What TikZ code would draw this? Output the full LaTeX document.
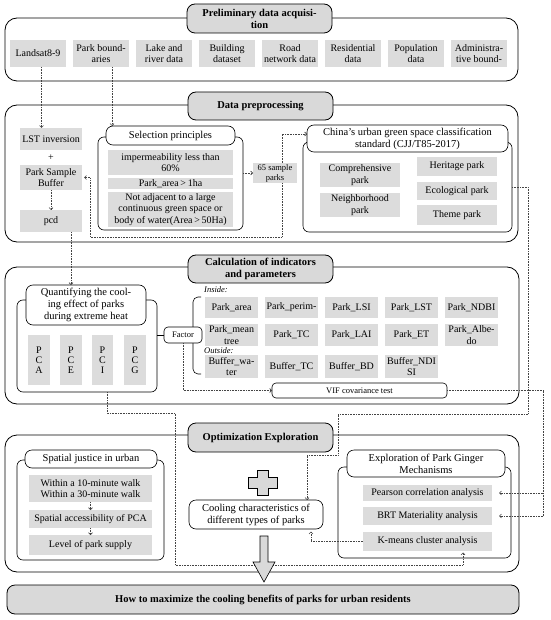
\documentclass[tikz,border=0pt]{standalone}
\usepackage{fontspec}
\setmainfont{Liberation Serif}
\usetikzlibrary{arrows.meta}
\definecolor{boxgray}{HTML}{D9D9D9}
\definecolor{itemgray}{HTML}{DCDCDC}
\definecolor{dotc}{HTML}{444444}
\newcommand{\mybox}[7]{\node[#1, minimum width={(#5)-(#3)}, minimum height={(#6)-(#4)}] (#2) at ({((#3)+(#5))/2},{((#4)+(#6))/2}) {#7};}
\tikzset{
  sect/.style={draw, rounded corners=12pt, line width=0.8pt, inner sep=0pt, outer sep=0pt},
  ttl/.style={draw, fill=boxgray, rounded corners=8pt, line width=0.8pt, align=center, font=\bfseries\fontsize{10.5}{12}\selectfont, inner sep=0pt, outer sep=0pt},
  subt/.style={draw, fill=white, rounded corners=7pt, line width=0.6pt, align=center, font=\fontsize{10.5}{12}\selectfont, inner sep=0pt, outer sep=0pt},
  cont/.style={draw, fill=white, rounded corners=6pt, line width=0.6pt, inner sep=0pt, outer sep=0pt},
  itm/.style={fill=itemgray, align=center, font=\fontsize{10}{11.5}\selectfont, inner sep=0pt, outer sep=0pt},
  sml/.style={font=\fontsize{8.5}{10}\selectfont},
  smlbox/.style={draw, fill=white, rounded corners=4pt, line width=0.6pt, align=center, font=\fontsize{8.5}{10}\selectfont, inner sep=0pt, outer sep=0pt},
  pcbar/.style={itm, font=\fontsize{10}{10}\selectfont},
  dl/.style={draw=dotc, line width=0.6pt, dash pattern=on 0.6pt off 1pt},
  da/.style={dl, -{Straight Barb[length=2pt,width=4pt]}},
}
\begin{document}
\begin{tikzpicture}[x=1pt,y=-1pt]
\useasboundingbox (0,0) rectangle (550,620);

% ---------- Section 1
\mybox{sect}{s1}{5}{18}{518}{81}{}
\mybox{ttl}{t1}{187}{4}{332}{33}{Preliminary data acquisi-\\tion}
\mybox{itm}{l1}{10}{40}{66}{67}{Landsat8-9}
\mybox{itm}{l2}{73}{40}{129}{67}{Park bound-\\aries}
\mybox{itm}{l3}{136}{40}{192}{67}{Lake and\\river data}
\mybox{itm}{l4}{199}{40}{255}{67}{Building\\dataset}
\mybox{itm}{l5}{262}{40}{318}{67}{Road\\network data}
\mybox{itm}{l6}{325}{40}{381}{67}{Residential\\data}
\mybox{itm}{l7}{388}{40}{444}{67}{Population\\data}
\mybox{itm}{l8}{451}{40}{507}{67}{Administra-\\tive bound-}

% ---------- Section 2
\mybox{sect}{s2}{5}{105}{518}{242}{}
\mybox{ttl}{t2}{188}{92}{333}{120}{Data preprocessing}
\mybox{itm}{lst}{20}{128}{82}{150}{LST inversion}
\node[font=\fontsize{10}{11}\selectfont] (plus1) at (51,158) {+};
\mybox{itm}{psb}{20}{165}{82}{190}{Park Sample\\Buffer}
\mybox{itm}{pcd}{20}{210}{82}{232}{pcd}
\mybox{cont}{selc}{98}{137}{243}{230}{}
\mybox{subt}{selt}{106}{126}{235}{145}{Selection principles}
\mybox{itm}{se1}{108}{150}{233}{175}{impermeability less than\\60\%}
\mybox{itm}{se2}{108}{178}{233}{189}{Park\_area\,>\,1ha}
\mybox{itm}{se3}{108}{192}{233}{227}{Not adjacent to a large\\continuous green space or\\body of water(Area\,>\,50Ha)}
\mybox{itm,sml}{sp}{253}{163}{297}{183}{65 sample\\parks}
\mybox{cont}{cc}{303}{142}{512}{232}{}
\mybox{subt}{ct}{307}{125}{508}{152}{China’s urban green space classification\\standard (CJJ/T85-2017)}
\mybox{itm}{c1}{320}{163}{400}{187}{Comprehensive\\park}
\mybox{itm}{c2}{320}{193}{400}{217}{Neighborhood\\park}
\mybox{itm}{c3}{417}{157}{497}{176}{Heritage park}
\mybox{itm}{c4}{417}{182}{497}{200}{Ecological park}
\mybox{itm}{c5}{417}{205}{497}{225}{Theme park}

% ---------- Section 3
\mybox{sect}{s3}{5}{267}{519}{404}{}
\mybox{ttl}{t3}{188}{255}{333}{283}{Calculation of indicators\\and parameters}
\mybox{cont}{qc}{17}{300}{157}{392}{}
\mybox{subt}{qt}{26}{285}{146}{325}{Quantifying the cool-\\ing effect of parks\\during extreme heat}
\mybox{pcbar}{pa}{28}{335}{50}{385}{P\\C\\A}
\mybox{pcbar}{pe}{60}{335}{82}{385}{P\\C\\E}
\mybox{pcbar}{pi}{92}{335}{113}{385}{P\\C\\I}
\mybox{pcbar}{pg}{124}{335}{146}{385}{P\\C\\G}
\draw[line width=0.6pt, rounded corners=5pt] (201,297) -- (193,297) -- (193,374) -- (201,374);
\mybox{smlbox}{fac}{164}{327}{202}{343}{Factor}
\draw[line width=0.6pt] (fac.west -| qc.east) -- (fac.west);
\node[sml, font=\itshape\fontsize{8.5}{10}\selectfont, anchor=west, inner sep=0pt] (ins) at (204,290) {Inside:};
\mybox{itm}{r11}{205}{297}{258}{318}{Park\_area}
\mybox{itm}{r12}{265}{297}{318}{318}{Park\_perim-}
\mybox{itm}{r13}{325}{297}{378}{318}{Park\_LSI}
\mybox{itm}{r14}{385}{297}{438}{318}{Park\_LST}
\mybox{itm}{r15}{445}{297}{498}{318}{Park\_NDBI}
\mybox{itm}{r21}{205}{324}{258}{346}{Park\_mean\\tree}
\mybox{itm}{r22}{265}{324}{318}{346}{Park\_TC}
\mybox{itm}{r23}{325}{324}{378}{346}{Park\_LAI}
\mybox{itm}{r24}{385}{324}{438}{346}{Park\_ET}
\mybox{itm}{r25}{445}{324}{498}{346}{Park\_Albe-\\do}
\node[sml, font=\itshape\fontsize{8.5}{10}\selectfont, anchor=west, inner sep=0pt] (outs) at (204,351) {Outside:};
\mybox{itm}{r31}{205}{355}{258}{378}{Buffer\_wa-\\ter}
\mybox{itm}{r32}{265}{355}{318}{378}{Buffer\_TC}
\mybox{itm}{r33}{325}{355}{378}{378}{Buffer\_BD}
\mybox{itm}{r34}{385}{355}{438}{378}{Buffer\_NDI\\SI}
\mybox{smlbox}{vif}{272}{383}{447}{398}{VIF covariance test}

% ---------- Section 4
\mybox{sect}{s4}{5}{435}{519}{572}{}
\mybox{ttl}{t4}{188}{423}{333}{452}{Optimization Exploration}
\mybox{cont}{spc}{17}{460}{164}{560}{}
\mybox{subt}{spt}{25}{450}{157}{468}{Spatial justice in urban}
\mybox{itm}{sp1}{29}{475}{152}{502}{Within a 10-minute walk\\Within a 30-minute walk}
\mybox{itm}{sp2}{29}{510}{152}{528}{Spatial accessibility of PCA}
\mybox{itm}{sp3}{29}{535}{152}{555}{Level of park supply}
\draw[fill=boxgray, line width=0.6pt] (257,470) -- (268,470) -- (268,477) -- (277,477) -- (277,488) -- (268,488) -- (268,495) -- (257,495) -- (257,488) -- (248,488) -- (248,477) -- (257,477) -- cycle;
\mybox{subt}{cool}{189}{500}{323}{529}{Cooling characteristics of\\different types of parks}
\mybox{cont}{ec}{338}{467}{511}{558}{}
\mybox{subt}{et}{347}{450}{505}{477}{Exploration of Park Ginger\\Mechanisms}
\mybox{itm}{e1}{363}{485}{492}{501}{Pearson correlation analysis}
\mybox{itm}{e2}{363}{507}{492}{525}{BRT Materiality analysis}
\mybox{itm}{e3}{363}{532}{492}{551}{K-means cluster analysis}

% ---------- Final
\mybox{ttl}{fin}{7}{585}{519}{614}{How to maximize the cooling benefits of parks for urban residents}

% ---------- Connectors
\coordinate (a1) at ([xshift=3.5pt]l1.south);
\draw[da] (a1) -- (a1 |- lst.north);
\coordinate (a2) at ([xshift=11pt]l2.south);
\draw[da] (a2) -- (a2 |- selt.north);
\draw[da] (psb.south) -- (pcd.north);
\draw[da] (sp.west -| selc.east) -- (sp.west);
\coordinate (a3) at ([xshift=7pt]sp.north);
\coordinate (a4) at ([yshift=4.5pt]ct.west);
\draw[da] (a3) |- (a4);
\coordinate (a5) at ([xshift=7pt]sp.south);
\coordinate (b1) at (90,237);
\draw[da] (a5) |- (b1) |- ([xshift=2pt]psb.east);
\coordinate (a6) at ([xshift=20pt]pcd.south);
\draw[da] (a6) -- (a6 |- qt.north);
\draw[da] (fac.south) |- (vif.west);
\coordinate (a7) at ([xshift=20pt]qc.south);
\coordinate (b2) at (175,413);
\coordinate (b3) at (175,565);
\coordinate (a8) at ([xshift=35.5pt,yshift=-1.5pt]e3.south);
\draw[da] (a7) |- (b2) -- (b3) -| (a8);
\coordinate (b4) at (528,414);
\coordinate (b5) at (338,455);
\coordinate (a9) at ([xshift=51pt]cool.north);
\draw[da] (cc.east) -| (b4) -| (b5) -| (a9);
\coordinate (b6) at (543,400);
\coordinate (a10) at ([xshift=7pt]e1.east);
\coordinate (a11) at ([xshift=7pt]e2.east);
\draw[dl] (vif.east) -| (a11 -| b6);
\draw[da] (a11 -| b6) -- (a11);
\draw[da] (a10 -| b6) -- (a10);
\coordinate (a12) at ([xshift=55pt,yshift=-2.5pt]cool.south);
\draw[da] (e3.west) -| (a12);
\draw[da] (sp1.south) -- (sp2.north);
\draw[da] (sp2.south) -- (sp3.north);

% big arrow
\draw[fill=boxgray, line width=0.6pt] (260,536) -- (268,536) -- (268,562) -- (275,562) -- (264,582) -- (253,562) -- (260,562) -- cycle;
\end{tikzpicture}
\end{document}
